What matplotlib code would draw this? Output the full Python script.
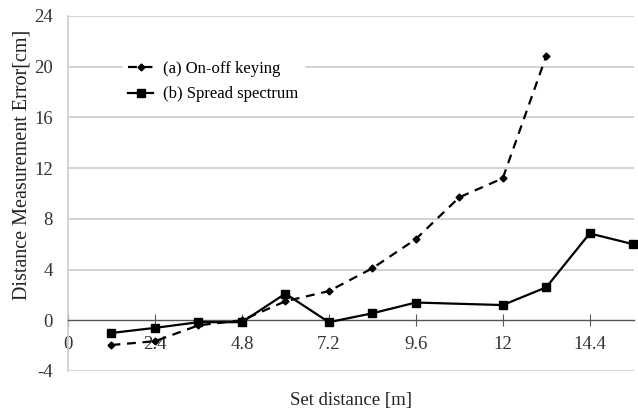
import matplotlib.pyplot as plt

plt.rcParams['font.family'] = ['Liberation Serif', 'DejaVu Serif']

# (a) On-off keying
x_ook = [1.2, 2.4, 3.6, 4.8, 6.0, 7.2, 8.4, 9.6, 10.8, 12.0, 13.2]
y_ook = [-1.95, -1.65, -0.4, 0.0, 1.5, 2.3, 4.1, 6.4, 9.7, 11.2, 20.85]

# (b) Spread spectrum
x_ss = [1.2, 2.4, 3.6, 4.8, 6.0, 7.2, 8.4, 9.6, 12.0, 13.2, 14.4, 15.6]
y_ss = [-1.0, -0.6, -0.15, -0.15, 2.1, -0.15, 0.55, 1.4, 1.2, 2.6, 6.85, 6.0]

x_ticks = [0, 2.4, 4.8, 7.2, 9.6, 12, 14.4]
x_tick_labels = ['0', '2.4', '4.8', '7.2', '9.6', '12', '14.4']
y_ticks = [-4, 0, 4, 8, 12, 16, 20, 24]

fig = plt.figure(figsize=(6.38, 4.08), dpi=100)
ax = fig.add_axes([0.1066, 0.0907, 0.887, 0.8701])

ax.plot(x_ook, y_ook, color='black', linestyle=(0, (4, 3)), linewidth=1.6,
        marker='D', markersize=3.5, label='(a) On-off keying', clip_on=False, zorder=3)
ax.plot(x_ss, y_ss, color='black', linestyle='-', linewidth=1.6,
        marker='s', markersize=5.5, label='(b) Spread spectrum', clip_on=False, zorder=3)

ax.set_xlim(0, 15.62)
ax.set_ylim(-4, 24)
ax.set_yticks(y_ticks)
ax.set_yticklabels([str(v) for v in y_ticks])
ax.set_xticks(x_ticks)
ax.set_xticklabels(x_tick_labels)

# horizontal grid
for v in y_ticks:
    if v != 0:
        ax.axhline(v, color='#cccccc', linewidth=1.2, zorder=0)

for s in ['top', 'right']:
    ax.spines[s].set_visible(False)
ax.spines['left'].set_color('#cccccc')
ax.spines['left'].set_linewidth(1.2)
ax.spines['bottom'].set_position(('data', 0))
ax.spines['bottom'].set_color('#555555')
ax.spines['bottom'].set_linewidth(1.0)

ax.tick_params(axis='y', length=0, pad=11, labelsize=13.5, labelcolor='#333333')
ax.tick_params(axis='x', direction='inout', length=8, color='#555555',
               pad=7, labelsize=13.5, labelcolor='#333333')

ax.set_xlabel('Set distance [m]', fontsize=13.5, color='#222222', labelpad=0)
ax.xaxis.set_label_coords(0.5, -0.06)
ax.set_ylabel('Distance Measurement Error[cm]', fontsize=14.5, color='#222222')
ax.yaxis.set_label_coords(-0.064, 0.58)

leg = ax.legend(loc='upper left', bbox_to_anchor=(0.083, 0.91), frameon=True,
                fontsize=12, handlelength=1.5, handletextpad=0.6,
                labelspacing=0.55, borderpad=0.3)
leg.get_frame().set_edgecolor('white')
leg.get_frame().set_facecolor('white')
leg.get_frame().set_alpha(1)

fig.savefig('out.png', dpi=100)
